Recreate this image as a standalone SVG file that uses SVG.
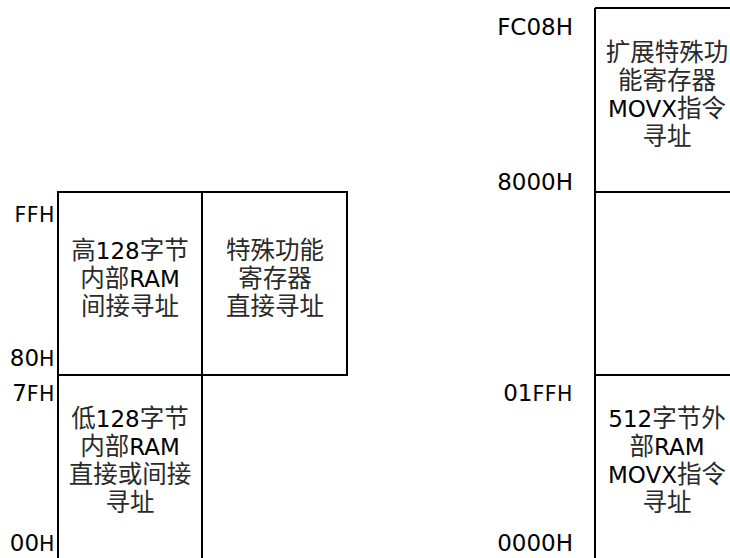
<svg xmlns="http://www.w3.org/2000/svg" width="730" height="558" viewBox="0 0 730 558">
<style>
.box{fill:#fff;stroke:#000;stroke-width:2}
.ln{stroke:#000;stroke-width:2;fill:none}
.t{font-family:"DejaVu Sans","Noto Sans CJK SC",sans-serif;font-size:23px;fill:#000;text-anchor:middle}
.cjk{fill:#2a2a2a;font-size:24.5px}
.lbl{font-family:"DejaVu Sans","Noto Sans CJK SC",sans-serif;font-size:23px;fill:#000;text-anchor:end}
.sm{font-size:20.5px;letter-spacing:0.5px}
</style>
<rect width="730" height="558" fill="#fff"/>
<g id="high128">
<rect class="box" x="58" y="192" width="144" height="183"/>
<text class="t" x="130" y="259"><tspan class="cjk">高</tspan>128<tspan class="cjk">字节</tspan></text>
<text class="t" x="130" y="287"><tspan class="cjk">内部</tspan>RAM</text>
<text class="t cjk" x="130" y="315">间接寻址</text>
</g>
<g id="sfr">
<rect class="box" x="202" y="192" width="145" height="183"/>
<text class="t cjk" x="275" y="259">特殊功能</text>
<text class="t cjk" x="275" y="287">寄存器</text>
<text class="t cjk" x="275" y="315">直接寻址</text>
</g>
<g id="low128">
<path class="ln" d="M58 375V560M202 375V560M58 375H202"/>
<text class="t" x="130" y="427"><tspan class="cjk">低</tspan>128<tspan class="cjk">字节</tspan></text>
<text class="t" x="130" y="455"><tspan class="cjk">内部</tspan>RAM</text>
<text class="t cjk" x="130" y="483">直接或间接</text>
<text class="t cjk" x="130" y="511">寻址</text>
</g>
<g id="ext-sfr">
<path class="ln" d="M595 8V192M595 8H732M595 192H732"/>
<text class="t cjk" x="667" y="61">扩展特殊功</text>
<text class="t cjk" x="667" y="89">能寄存器</text>
<text class="t" x="667" y="117">MOVX<tspan class="cjk">指令</tspan></text>
<text class="t cjk" x="667" y="145">寻址</text>
</g>
<g id="ext-empty">
<path class="ln" d="M595 192V375M595 375H732"/>
</g>
<g id="ext-ram">
<path class="ln" d="M595 375V560"/>
<text class="t" x="667" y="427">512<tspan class="cjk">字节外</tspan></text>
<text class="t" x="667" y="455"><tspan class="cjk">部</tspan>RAM</text>
<text class="t" x="667" y="483">MOVX<tspan class="cjk">指令</tspan></text>
<text class="t cjk" x="667" y="511">寻址</text>
</g>
<g id="labels">
<text class="lbl sm" x="55" y="222">FFH</text>
<text class="lbl" x="55" y="366">80<tspan class="sm">H</tspan></text>
<text class="lbl" x="55" y="401">7<tspan class="sm">FH</tspan></text>
<text class="lbl" x="55" y="551">00<tspan class="sm">H</tspan></text>
<text class="lbl" x="573" y="35">FC08H</text>
<text class="lbl" x="573" y="190">8000H</text>
<text class="lbl" x="573" y="401">01<tspan class="sm">FFH</tspan></text>
<text class="lbl" x="573" y="551">0000H</text>
</g>
<g id="connectors"></g>
</svg>
